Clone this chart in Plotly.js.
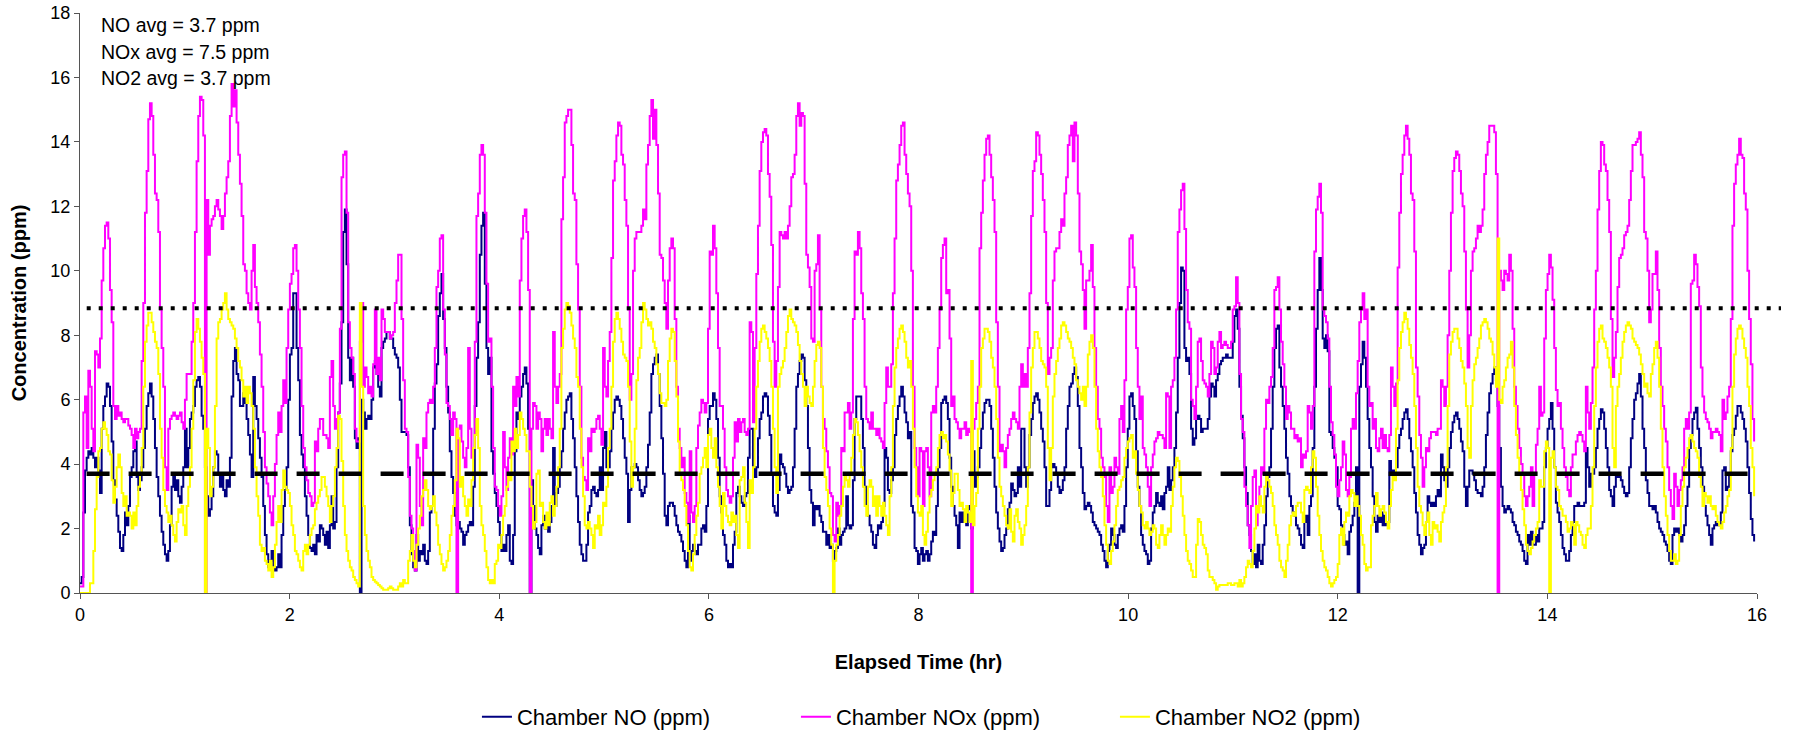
<!DOCTYPE html>
<html>
<head>
<meta charset="utf-8">
<script src="https://cdn.plot.ly/plotly-3.0.1.min.js"></script>
<style>
html,body{margin:0;padding:0;background:#fff;}
#chart{width:1793px;height:733px;}
</style>
</head>
<body>
<div id="chart"></div>
<script>
// Logging interval of the chamber analyser (hours per sample)
const sampleIntervalHr = 0.015893;

const seriesNames = ['Chamber NO (ppm)', 'Chamber NOx (ppm)', 'Chamber NO2 (ppm)'];
const seriesColors = ['#000080', '#FF00FF', '#FFFF00'];

const noPpm = [
// 0 - 1.9 h
0.3,0.5,2.5,3.8,4.2,4.4,4.3,4.5,4.2,3.9,
4.2,3.8,3.1,5.1,5.8,6.1,6.5,6.4,5.8,4.7,
3.5,2.9,2.4,1.9,1.4,1.3,1.8,2.5,2.1,2.7,
3.6,3.9,4.4,4.7,3.6,3.2,3.5,3.9,4.5,5.1,
5.8,6.2,6.5,6.1,5.4,4.5,3.6,3.0,2.4,1.9,
1.5,1.2,1.0,1.3,2.1,3.3,3.6,3.2,3.5,3.0,
2.8,3.3,3.9,5.1,3.9,4.5,5.4,5.6,5.8,6.4,
6.6,6.7,6.4,5.5,5.1,3.9,3.0,2.4,2.6,3.0,
3.9,4.4,4.3,3.7,3.3,3.6,3.2,3.0,3.5,3.3,
4.2,6.1,7.2,7.6,6.8,6.6,5.8,5.8,6.2,5.9,
5.4,4.9,4.3,3.6,6.7,5.8,5.4,4.8,4.2,3.6,
2.7,1.8,1.2,0.8,1.0,1.3,0.8,0.7,0.8,1.2,
// 1.9 - 3.9 h
0.8,1.8,2.7,3.2,3.9,6.0,7.4,7.6,9.3,9.3,
7.6,6.6,4.9,4.3,3.9,3.0,2.4,1.8,1.4,1.3,
1.5,1.2,1.8,1.6,2.1,2.0,1.8,1.5,1.9,1.4,
2.1,3.0,2.0,2.2,3.9,5.6,6.5,8.4,11.2,11.9,
10.2,7.3,6.6,7.3,6.4,4.8,4.5,4.8,0,6.0,
5.6,5.1,5.4,5.5,5.4,6.0,7.0,7.2,6.8,6.4,
6.1,7.6,7.8,7.9,8.1,8.1,7.9,7.9,7.6,7.4,
7.3,7.0,6.0,5.0,5.0,5.0,4.9,3.9,2.1,1.2,
0.8,0.7,1.8,1.0,1.3,1.2,1.5,1.0,0.9,1.3,
2.5,2.7,5.1,6.5,7.1,8.6,9.3,9.9,8.5,7.6,
6.4,5.6,4.4,3.6,3.1,2.4,2.1,2.2,2.0,1.9,
1.5,1.8,1.9,2.1,2.2,2.1,3.3,5.8,7.3,8.4,
10.5,11.4,11.8,9.6,7.6,6.8,
// 3.9 - 5.9 h
7.3,4.4,3.7,3.1,2.7,2.2,1.8,1.3,1.5,1.3,
1.8,2.1,1.0,0.9,1.8,4.4,5.6,5.4,6.1,6.4,
6.8,7.0,6.5,5.1,0,3.5,2.7,2.0,1.8,1.4,
1.2,2.1,2.4,2.0,2.1,1.9,2.2,2.7,4.5,2.7,
3.1,3.3,3.9,4.4,5.1,5.6,6.0,6.1,6.2,5.4,
4.8,3.9,3.0,2.2,1.5,1.2,1.0,1.0,1.5,2.5,
2.7,3.2,3.3,3.1,3.0,3.2,3.9,3.2,4.5,5.0,
3.9,3.9,4.4,5.1,5.6,6.0,6.1,6.0,5.8,5.4,
4.8,4.2,3.7,2.2,3.2,3.9,3.9,4.0,3.9,3.5,
3.2,3.0,3.1,3.3,3.9,4.6,5.6,6.8,7.1,7.3,
7.4,6.8,5.8,4.8,3.7,2.4,2.1,2.7,2.8,2.8,
2.7,2.4,2.1,1.9,1.8,1.6,1.3,1.0,0.8,2.4,
1.0,1.3,1.5,1.3,1.2,1.5,
// 5.9 - 7.9 h
1.5,2.0,2.1,1.9,2.7,5.4,5.8,5.8,6.2,6.0,
5.4,4.2,3.0,2.5,1.8,1.5,1.0,0.8,0.9,0.8,
1.5,1.9,3.1,3.3,3.0,2.8,2.7,3.0,3.1,4.2,
5.1,5.1,3.9,3.6,3.9,4.8,5.4,5.6,6.1,6.2,
6.1,5.5,4.9,3.7,2.7,2.5,2.4,3.2,4.3,4.0,
3.9,3.7,3.3,3.1,3.2,3.3,3.9,5.1,6.4,6.8,
7.2,7.4,7.3,6.6,5.8,4.5,3.2,2.8,2.1,2.7,
2.6,2.7,2.4,2.2,1.9,1.9,1.5,1.8,1.4,1.5,
1.0,1.3,1.4,2.0,1.5,1.8,1.9,2.0,3.0,2.1,
2.0,2.1,3.5,5.4,6.1,6.1,6.1,5.4,4.5,3.3,
2.7,2.4,2.1,1.9,1.5,1.4,1.8,2.1,2.0,2.2,
2.7,4.5,4.2,3.2,3.1,3.5,3.9,4.9,5.4,5.8,
6.1,6.4,6.1,5.6,5.3,4.8,
// 7.9 - 9.9 h
5.0,2.7,2.5,1.4,1.3,0.9,1.2,1.4,1.0,1.2,
1.3,1.0,1.2,1.6,1.9,1.8,2.7,3.9,4.5,5.9,
6.0,6.1,5.9,5.4,4.2,3.3,2.7,2.4,2.1,1.4,
2.5,2.2,2.5,2.2,2.1,2.7,2.6,2.0,4.4,3.3,
3.6,3.9,4.5,5.1,5.6,5.9,6.0,6.0,5.8,5.1,
4.2,3.3,2.5,2.0,1.6,1.3,1.4,1.8,2.0,2.6,
2.8,3.4,3.2,3.0,3.1,3.9,3.3,5.1,5.1,3.9,
3.3,3.9,4.9,5.4,5.9,6.1,6.2,6.0,5.6,5.1,
4.7,3.9,2.7,2.7,3.2,3.9,4.0,3.9,3.7,3.3,
3.1,3.2,3.5,3.9,5.1,5.8,6.4,6.5,6.8,7.0,
6.7,5.8,4.5,3.9,3.1,2.6,2.7,2.8,2.7,2.5,
2.2,2.1,2.0,1.9,1.8,1.5,1.3,1.0,0.8,1.3,
1.5,2.0,1.8,1.5,1.4,1.8,
// 9.9 - 11.9 h
2.0,2.1,1.9,2.7,3.9,5.1,6.1,6.2,5.8,5.4,
4.4,3.3,2.7,1.8,1.5,1.3,1.2,0.9,1.0,2.0,
2.5,2.7,3.1,2.8,2.7,3.0,2.6,3.1,3.3,3.9,
3.2,3.5,3.9,4.5,5.6,7.3,9.0,10.1,10.0,7.6,
7.2,7.3,6.8,5.1,4.6,4.8,5.4,5.5,5.4,5.0,
5.1,5.1,5.1,5.4,6.1,6.5,6.4,6.1,6.6,6.8,
7.1,7.2,7.3,7.3,7.4,7.3,7.3,7.3,7.8,8.6,
8.8,8.2,6.4,5.5,4.8,3.9,3.1,2.1,1.8,1.3,
0.9,1.2,0.8,1.5,1.0,0.9,1.5,2.1,3.0,3.6,
3.9,5.1,6.4,7.6,8.2,8.3,7.0,6.4,5.8,5.1,
4.2,3.7,3.0,2.7,2.5,2.4,2.1,2.0,1.8,1.5,
1.4,2.2,2.4,1.8,2.7,3.0,4.5,6.4,8.2,9.4,
10.4,9.4,7.9,7.6,8.0,7.5,
// 11.9 - 13.9 h
5.0,4.9,4.5,4.2,3.9,2.7,2.6,2.1,1.8,1.5,
1.6,1.2,1.9,2.1,2.4,2.8,3.9,0,6.4,7.1,
7.8,7.3,6.4,5.4,4.5,3.9,3.0,2.2,1.9,2.4,
2.2,2.5,2.1,2.4,2.1,2.2,4.1,3.7,3.8,3.6,
3.9,4.5,4.9,5.1,5.4,5.6,5.7,5.4,4.8,4.4,
3.9,3.1,2.5,1.8,1.5,1.2,1.4,1.5,2.2,3.0,
2.8,2.7,2.8,2.7,3.0,3.2,3.0,4.3,3.9,3.5,
3.3,3.9,4.5,5.0,5.3,5.5,5.6,5.4,5.1,4.7,
4.4,3.3,2.7,3.3,3.8,3.8,3.7,3.5,3.2,3.1,
3.1,3.0,3.3,3.9,4.9,5.6,6.2,6.5,6.8,7.0,
6.6,5.8,4.5,3.3,2.7,2.5,2.6,2.7,2.6,2.5,
2.2,2.1,1.9,1.8,1.6,1.5,1.3,1.0,0.9,1.8,
1.5,1.9,1.5,1.5,1.8,1.6,
// 13.9 - 16 h
2.0,2.0,2.2,3.9,4.5,5.1,5.4,5.9,5.1,3.9,
2.8,2.5,2.2,1.8,1.4,1.2,1.0,1.0,1.3,1.8,
2.2,2.7,2.7,2.8,2.7,2.7,2.7,2.8,4.5,3.9,
3.3,3.7,3.7,3.9,4.5,5.1,5.4,5.7,5.6,5.1,
4.5,3.9,3.2,3.0,2.7,3.3,3.6,3.7,3.6,3.5,
3.3,3.1,3.0,3.1,3.9,4.8,5.4,6.0,6.2,6.5,
6.8,6.1,5.1,4.5,3.5,3.1,2.7,2.7,2.6,2.7,
2.5,2.2,2.0,1.9,1.8,1.6,1.5,1.3,1.0,0.9,
1.8,2.0,1.9,2.0,1.8,1.6,1.8,2.1,2.7,3.3,
4.5,4.9,5.4,5.6,5.75,5.1,4.5,3.9,3.3,2.7,
2.4,2.1,1.8,1.5,2.0,2.1,2.2,2.1,2.1,2.5,
3.8,3.9,3.2,3.3,3.7,4.4,4.9,5.1,5.5,5.8,
5.8,5.6,5.4,5.1,4.7,3.9,3.1,2.3,1.8,1.6
];

const noxPpm = [
// 0 - 1.9 h
0.2,0.2,5.6,6.1,4.5,6.9,6.4,5.1,4.4,7.5,
7.4,7.0,7.9,9.7,10.7,11.4,11.5,11.0,9.4,8.4,
5.8,5.4,5.8,5.5,5.6,5.4,5.3,5.4,5.4,5.2,
5.1,4.9,4.5,5.1,4.8,5.0,5.1,7.2,9.0,11.8,
13.1,14.7,15.2,14.8,13.6,12.4,12.2,11.2,8.8,7.6,
6.4,3.9,3.2,5.1,5.4,5.5,5.6,5.5,5.4,5.5,
5.6,5.3,5.1,6.0,6.8,6.8,6.8,7.8,9.0,11.2,
13.4,14.8,15.4,15.3,14.2,0,12.2,10.5,11.4,11.6,
11.7,12.0,12.2,11.9,11.7,11.3,11.7,12.4,12.9,13.4,
14.8,15.8,15.1,15.6,14.6,13.6,12.7,11.7,10.2,10.0,
9.3,9.0,8.8,10.0,10.8,9.5,9.0,8.4,7.4,6.4,
5.0,3.9,3.4,3.0,2.5,2.1,3.0,4.0,4.9,5.6,
// 1.9 - 3.9 h
5.0,5.8,6.6,5.9,7.6,8.8,9.6,9.9,10.7,10.8,
10.0,8.8,7.6,5.8,4.5,3.9,3.5,3.1,3.0,2.7,
2.8,4.7,4.4,5.1,5.4,5.4,4.9,4.9,4.8,4.5,
6.7,7.2,5.8,5.1,5.4,5.6,8.2,12.9,13.6,13.7,
11.8,8.4,7.6,7.3,6.8,5.1,4.7,4.7,7.8,9.0,
6.4,7.0,6.7,6.2,6.4,6.1,7.1,8.8,6.8,7.3,
6.6,8.8,8.5,8.1,8.1,8.1,7.9,8.0,8.1,9.0,
9.7,10.5,10.5,8.5,6.6,5.1,5.0,3.6,2.4,2.0,
1.3,0.7,4.6,4.2,2.7,2.1,4.8,4.5,5.6,5.9,
6.0,5.9,6.4,7.6,9.5,10.0,11.0,11.1,8.8,7.4,
5.9,5.8,5.4,4.9,5.6,5.4,0,5.1,5.2,4.7,
4.2,3.9,4.5,7.6,5.1,4.2,4.5,7.8,11.7,12.4,
13.6,13.9,13.6,11.8,9.6,7.8,
// 3.9 - 5.9 h
7.9,6.4,4.5,3.3,3.2,2.7,2.4,3.0,5.0,3.9,
3.2,4.2,4.8,4.3,6.4,5.8,6.7,6.1,9.7,11.0,
11.7,11.9,11.2,9.4,0,5.1,5.9,5.8,5.1,5.6,
5.4,4.4,5.1,5.4,4.9,5.4,5.1,4.8,8.1,6.4,
5.9,6.4,6.8,11.6,12.9,14.6,14.8,15.0,15.0,13.9,
12.4,12.2,10.2,8.8,6.4,4.2,3.6,3.5,3.2,4.8,
4.4,5.1,5.0,5.1,5.4,5.5,5.1,4.6,7.6,6.4,
6.1,7.2,8.1,10.4,12.8,13.4,14.2,14.6,14.5,13.6,
13.3,12.2,11.4,8.8,6.0,6.8,10.0,11.0,11.2,11.2,
11.2,11.4,11.9,11.6,13.3,13.9,14.8,15.3,14.1,15.0,
13.9,12.4,10.5,10.4,9.7,9.0,8.2,9.7,10.7,11.0,
10.7,8.5,6.4,5.1,4.5,3.9,4.2,3.1,2.8,2.2,
4.4,2.5,2.2,2.7,4.5,5.2,
// 5.9 - 7.9 h
5.6,6.0,5.9,5.6,5.9,8.2,10.6,10.5,11.4,10.7,
9.3,7.6,5.8,5.8,5.1,3.9,3.2,3.0,2.8,3.0,
4.2,5.3,4.7,5.4,5.0,5.3,5.4,5.0,4.9,5.1,
8.4,8.1,5.3,7.6,9.9,11.4,13.1,14.0,14.3,14.4,
14.2,13.0,12.3,10.8,7.8,6.4,7.2,9.5,11.2,11.1,
11.0,11.2,11.0,11.4,12.0,12.9,13.0,13.6,14.8,15.2,
14.5,14.9,14.8,12.7,10.5,10.1,9.5,7.9,7.8,10.0,
10.2,11.1,8.8,6.4,5.4,5.1,4.4,3.9,3.1,3.0,
1.8,1.6,2.8,2.4,2.7,4.5,4.4,5.6,5.6,5.9,
5.1,5.6,8.5,10.6,10.5,11.2,10.7,9.3,8.5,6.4,
5.4,5.3,5.1,5.6,5.1,5.1,4.9,5.1,4.8,4.7,
4.5,5.9,7.0,6.4,6.4,7.1,9.3,11.0,12.8,13.3,
13.9,14.5,14.6,13.6,13.0,12.4,
// 7.9 - 9.9 h
12.0,10.0,6.4,4.5,3.9,3.0,4.5,4.4,2.7,4.4,
4.5,3.9,3.0,5.6,5.8,5.6,6.4,7.6,8.8,10.4,
10.8,11.0,9.3,9.4,7.9,5.8,6.1,5.4,5.3,5.1,
4.8,5.1,5.1,5.3,4.9,5.1,5.0,0,5.1,5.4,
5.9,6.4,10.7,11.8,12.8,13.6,14.1,14.2,13.6,12.9,
12.2,11.2,8.4,6.4,4.4,4.6,4.4,3.9,4.5,4.9,
5.1,5.4,5.6,5.4,5.3,5.1,6.4,7.1,6.4,6.8,
6.4,7.6,9.3,11.7,13.1,13.4,14.3,14.2,13.6,13.0,
12.2,11.2,9.0,6.8,7.3,7.6,9.7,10.6,10.7,10.7,
11.2,11.6,11.4,12.4,12.9,13.9,14.2,14.5,13.4,14.6,
14.2,12.4,10.6,10.2,9.4,8.2,9.7,9.7,10.0,10.8,
9.5,7.6,6.4,5.4,5.1,4.2,3.9,3.6,2.7,2.2,
3.9,3.1,3.3,4.2,3.9,3.7,
// 9.9 - 11.9 h
5.4,5.8,5.0,6.6,8.8,9.5,11.0,11.1,10.1,9.5,
7.6,6.4,5.4,6.1,4.5,4.3,3.9,3.3,2.7,3.9,
4.3,4.7,4.8,5.0,4.9,4.9,4.8,4.5,6.2,6.1,
4.5,6.4,6.6,7.3,8.8,11.2,11.9,12.5,12.7,11.3,
9.4,8.4,8.2,6.0,5.8,5.4,6.4,7.8,7.9,7.2,
6.6,6.5,6.4,6.1,6.8,7.8,7.6,6.8,7.0,7.8,
8.1,7.6,7.7,7.8,7.7,7.6,7.6,7.8,8.8,8.9,
9.8,9.0,6.8,5.4,5.0,3.3,2.7,2.1,1.4,2.7,
3.6,3.8,2.1,2.7,3.3,3.9,3.7,5.1,6.0,5.9,
6.4,6.7,7.6,9.4,9.5,9.8,8.8,7.8,7.1,6.4,
5.4,5.8,5.6,5.1,5.1,4.8,4.9,4.7,4.8,3.9,
4.3,4.2,4.4,5.8,5.6,5.1,5.8,10.6,11.9,12.3,
12.7,11.8,8.8,8.6,8.4,7.9,
// 11.9 - 13.9 h
6.4,5.3,4.9,4.3,3.3,3.0,3.5,3.9,4.7,4.3,
3.2,3.0,3.6,5.1,5.4,5.1,6.2,7.2,8.4,8.8,
9.3,8.5,8.8,6.4,5.8,5.9,5.1,5.4,4.5,4.4,
4.8,5.1,4.5,4.9,4.5,4.4,4.9,7.0,6.4,5.8,
6.5,10.1,11.8,13.0,13.6,14.2,14.5,14.1,13.6,12.4,
12.2,10.6,7.0,6.1,4.9,4.2,3.3,3.9,4.5,4.4,
4.8,5.0,5.0,5.0,4.9,5.1,5.1,6.6,6.4,5.8,
6.4,8.0,10.0,11.8,13.1,13.5,13.7,13.6,13.1,12.4,
12.0,10.6,8.8,7.0,8.0,10.0,10.6,10.7,11.0,11.4,
11.2,11.4,11.9,13.0,13.6,14.0,14.5,14.5,14.5,14.3,
13.0,0,10.0,9.7,9.4,10.0,9.9,9.7,10.5,10.0,
8.2,6.4,5.8,5.1,4.5,4.0,3.7,3.0,2.7,3.0,
3.3,3.9,2.7,3.7,4.6,5.1,
// 13.9 - 16 h
6.4,5.5,5.6,7.9,9.4,9.9,10.5,10.1,9.1,7.6,
6.3,5.8,5.9,5.1,4.5,3.9,3.6,3.2,3.0,3.9,
4.3,4.3,4.7,4.9,5.0,4.9,4.7,4.4,6.4,5.6,
5.1,5.9,7.0,8.8,10.0,11.9,13.1,14.0,13.9,13.3,
13.1,12.2,11.2,8.5,6.7,7.3,8.1,9.5,10.4,10.5,
10.7,11.1,11.2,11.4,12.2,13.1,13.9,13.9,14.0,14.1,
14.3,13.6,12.9,11.2,11.0,10.0,8.4,8.8,9.9,9.9,
10.6,9.4,7.6,6.4,5.8,5.1,4.7,3.9,3.2,2.7,
2.3,3.7,3.3,2.7,3.2,3.5,3.9,5.1,5.4,5.1,
5.6,9.6,9.7,10.5,10.2,9.5,8.9,7.0,6.1,5.6,
5.4,5.3,5.1,4.8,5.0,5.0,5.1,5.0,4.9,4.4,
6.0,5.4,5.6,6.1,6.4,8.5,11.4,12.7,13.3,13.6,
14.1,13.6,13.5,12.4,11.9,10.0,8.5,7.1,5.4,4.7
];

const no2Ppm = [
// 0 - 1.9 h
0,0,0,0,0,0,0.3,0.3,1.3,2.6,
3.6,4.4,4.5,5.1,5.3,5.1,4.9,4.4,4.3,3.5,
2.8,3.3,3.9,4.3,3.9,3.1,2.7,3.0,2.4,2.5,
2.4,2.0,2.5,2.1,2.7,3.3,3.7,4.5,6.4,7.8,
8.3,8.7,8.7,8.4,8.1,7.8,7.6,6.8,5.1,4.2,
3.2,2.7,2.5,2.2,2.4,2.1,1.8,1.6,2.2,2.6,
2.5,2.7,2.1,1.8,2.7,3.3,3.9,5.1,6.6,8.1,
8.5,8.2,7.8,7.3,6.8,0,5.1,4.5,3.0,3.3,
3.9,5.8,7.9,8.4,8.5,8.8,9.0,9.3,8.8,8.5,
8.4,8.3,8.2,7.9,7.6,7.2,7.0,6.6,6.1,6.4,
5.9,6.4,6.2,5.8,5.1,3.9,3.0,2.4,1.5,1.3,
1.4,1.0,0.9,0.7,1.0,0.5,0.8,1.5,2.2,2.7,
// 1.9 - 3.9 h
2.2,3.2,3.8,3.3,3.2,3.1,2.7,2.1,1.8,1.3,
1.2,1.0,0.8,0.7,1.3,1.5,1.2,1.5,1.8,2.0,
2.1,2.6,2.8,3.0,3.2,3.6,3.6,3.3,3.0,2.7,
2.2,2.7,3.0,3.9,4.5,5.5,5.4,4.1,2.7,1.8,
1.3,1.0,0.8,0.7,0.5,0.4,0.3,0.2,9.0,6.4,
2.7,1.8,1.3,1.0,0.8,0.5,0.4,0.35,0.3,0.25,
0.2,0.15,0.1,0.1,0.1,0.15,0.2,0.15,0.1,0.1,
0.1,0.2,0.3,0.2,0.4,0.3,0.3,1.0,1.3,1.8,
1.0,0.8,1.5,2.0,2.4,3.0,3.2,3.5,3.2,2.7,
2.6,2.7,3.0,2.5,2.1,1.5,1.2,0.9,0.7,0.8,
1.0,1.3,1.8,2.4,2.7,3.5,5.1,4.8,3.3,3.6,
3.0,2.7,2.4,2.9,2.7,3.5,4.5,4.9,5.4,4.5,
2.7,2.1,1.8,1.3,0.8,0.4,
// 3.9 - 5.9 h
0.3,0.4,0.3,0.9,1.0,1.5,1.4,1.8,2.4,2.7,
3.3,3.7,3.5,4.7,4.4,5.1,4.5,4.9,5.6,5.4,
5.1,4.9,4.4,4.4,3.3,2.7,2.0,2.2,3.7,3.8,
2.7,2.8,2.2,2.0,2.5,2.1,2.8,3.0,2.4,2.7,
3.3,3.9,5.1,7.6,8.2,8.8,9.0,8.9,8.7,8.3,
7.9,7.6,6.7,6.4,5.1,3.9,3.0,2.1,2.0,2.2,
2.0,1.8,1.4,2.1,2.0,2.4,1.8,2.1,2.8,2.7,
3.3,4.5,5.1,6.4,7.8,8.5,8.7,8.5,8.2,7.8,
7.4,7.3,7.2,6.4,4.7,3.3,3.9,5.1,6.6,7.3,
7.6,8.4,9.0,8.8,8.5,8.3,8.4,8.2,7.8,7.6,
7.1,6.8,6.2,5.9,5.9,5.8,6.0,7.2,7.9,8.2,
8.1,7.2,6.1,4.7,3.7,3.5,3.2,2.7,2.1,1.3,
0.8,0.7,1.2,1.8,2.4,2.8,
// 5.9 - 7.9 h
3.7,3.9,4.2,4.5,3.9,4.9,5.1,4.5,4.2,4.8,
3.9,3.3,2.7,2.0,3.1,2.7,2.4,2.2,2.1,2.5,
2.2,2.4,1.8,1.4,3.5,3.6,3.9,2.8,2.2,1.4,
3.5,3.1,3.9,5.1,6.4,7.2,7.8,8.2,8.3,8.1,
7.9,7.6,7.2,6.4,5.1,3.9,3.1,6.4,6.8,7.0,
7.2,7.6,8.1,8.6,8.8,8.5,8.4,8.3,8.1,7.7,
7.2,6.8,6.4,5.8,6.4,6.1,5.9,5.8,6.4,7.2,
7.7,7.8,7.6,6.4,4.5,3.6,3.2,2.7,2.0,1.5,
0,1.0,1.5,1.8,2.4,2.7,3.3,3.6,3.5,3.3,
3.7,4.2,4.9,5.4,5.3,4.9,4.4,3.9,3.3,2.7,
2.4,3.3,3.5,3.3,2.7,3.0,2.4,3.0,2.7,2.4,
2.8,2.4,2.1,1.8,3.0,3.9,5.8,7.0,7.6,7.9,
8.2,8.3,8.1,7.8,7.3,7.0,
// 7.9 - 9.9 h
7.2,6.4,5.1,3.9,3.0,2.5,2.4,2.7,1.8,1.5,
1.9,2.5,3.0,3.2,3.5,3.7,3.9,4.5,4.9,5.0,
4.8,4.9,4.7,4.3,3.8,2.7,3.1,3.7,3.7,3.2,
2.7,2.8,2.6,2.2,2.7,2.5,2.2,7.2,2.1,2.7,
3.1,5.1,6.4,7.6,7.9,8.2,8.2,8.1,7.8,7.3,
7.0,6.4,5.4,4.2,3.3,3.0,2.7,2.4,2.1,2.0,
2.6,1.9,1.6,2.4,2.6,2.2,2.0,1.5,1.8,2.1,
2.7,3.9,5.6,7.0,7.6,8.1,8.1,7.9,7.6,7.2,
7.1,7.0,6.4,4.5,3.5,4.5,6.1,6.8,7.2,7.6,
7.9,8.3,8.4,8.3,8.1,7.9,7.8,7.6,7.3,7.1,
6.6,6.4,6.2,6.0,6.4,5.8,6.4,7.4,7.8,8.0,
7.6,6.4,5.1,4.4,3.9,3.6,3.0,2.1,1.5,1.0,
0.9,1.3,1.6,2.1,2.7,3.2,
// 9.9 - 11.9 h
3.3,3.5,3.6,4.2,4.5,4.7,4.8,4.9,4.2,4.4,
3.7,3.2,2.7,2.5,2.1,2.0,2.2,2.0,1.8,1.9,
2.1,2.0,1.5,1.4,1.8,2.1,1.8,1.5,1.8,2.0,
1.9,2.7,3.3,3.9,4.2,4.1,3.6,3.0,2.4,1.8,
1.3,1.0,0.9,0.7,0.5,0.5,1.5,2.3,2.2,1.8,
1.5,1.4,1.2,0.7,0.5,0.5,0.4,0.3,0.1,0.2,
0.25,0.25,0.25,0.25,0.25,0.3,0.3,0.25,0.25,0.3,
0.3,0.2,0.4,0.2,0.3,0.5,0.8,1.0,0.9,0.8,
1.3,2.0,2.7,2.5,3.0,2.7,2.5,3.3,3.6,3.5,
3.3,3.1,2.7,2.1,1.8,1.5,1.0,0.8,0.7,0.5,
1.0,1.5,2.1,2.4,2.5,2.4,2.7,2.8,2.8,2.5,
2.2,3.2,3.3,3.2,3.1,3.9,4.4,4.2,3.3,2.4,
1.8,1.3,1.0,0.8,0.7,0.5,
// 11.9 - 13.9 h
0.3,0.2,0.3,0.4,0.5,0.9,1.8,2.0,1.5,2.2,
2.5,2.4,3.0,3.2,3.1,2.7,3.0,2.7,2.4,1.8,
1.5,0.9,0.7,0.8,0.8,2.1,2.4,2.7,3.1,2.7,
2.4,2.6,2.7,2.5,2.2,2.0,2.7,3.2,3.6,3.5,
5.1,6.6,7.6,8.1,8.4,8.7,8.5,8.2,7.7,7.3,
6.8,5.8,4.5,3.3,2.7,2.5,2.1,1.8,2.2,2.5,
1.8,1.5,2.2,2.0,2.1,1.9,1.6,2.2,2.5,2.7,
3.9,5.8,7.4,7.8,8.1,8.2,8.2,7.9,7.6,7.2,
7.0,6.5,5.8,4.5,4.2,5.8,6.6,7.1,7.3,7.6,
7.9,8.3,8.4,8.5,8.4,8.2,7.9,7.8,7.4,7.0,
6.4,11.0,6.0,5.9,6.4,6.6,7.0,7.3,7.4,7.8,
7.0,5.8,4.9,4.2,3.7,3.2,2.6,2.1,1.5,1.3,
1.2,1.4,1.6,1.8,2.0,2.2,
// 13.9 - 16 h
3.5,3.3,3.3,4.4,4.7,4.5,0,4.2,4.4,3.9,
3.3,3.2,2.7,2.6,2.4,2.4,2.2,1.9,2.0,2.2,
2.1,1.5,2.2,2.1,1.9,1.8,1.5,1.4,1.8,2.0,
2.0,2.7,3.9,5.8,7.0,7.8,8.2,8.3,7.9,7.8,
7.6,7.3,7.0,6.4,4.5,3.9,5.8,6.4,6.8,7.3,
7.8,8.1,8.3,8.4,8.3,8.2,7.9,7.8,7.7,7.6,
7.4,7.1,6.8,6.4,6.5,6.2,6.1,6.8,7.1,7.6,
7.8,7.3,6.4,5.1,3.9,3.0,2.4,1.8,1.3,1.0,
1.0,1.2,0.9,1.0,1.8,2.7,3.3,3.9,4.2,4.5,
4.8,4.9,4.7,4.5,4.4,4.2,3.6,3.3,2.7,3.1,
3.0,2.8,3.0,2.7,2.6,2.7,2.4,2.2,2.1,2.0,
2.2,2.5,2.7,3.0,3.2,4.5,6.4,7.4,7.9,8.2,
8.3,8.2,7.9,7.6,7.3,6.4,5.8,4.5,3.9,3.0
];

// Reference lines
const avgLevelPpm = 3.7;
const avgLineHr = [0.063, 15.91];
const thresholdPpm = 8.84;

// Summary text shown in the corner
const summaryLines = ['NO avg = 3.7 ppm', 'NOx avg = 7.5 ppm', 'NO2 avg = 3.7 ppm'];

// Axes
const xTickVals = [0, 2, 4, 6, 8, 10, 12, 14, 16];
const yTickVals = [0, 2, 4, 6, 8, 10, 12, 14, 16, 18];
const xRange = [0, 16];
const yRange = [0, 18];

const FONT = 'Liberation Sans, Arial, Helvetica, sans-serif';
const seriesValues = [noPpm, noxPpm, no2Ppm];

const traces = seriesValues.map((vals, k) => ({
  type: 'scatter',
  mode: 'lines',
  name: seriesNames[k],
  x0: 0,
  dx: sampleIntervalHr,
  y: vals,
  line: {color: seriesColors[k], width: 2, shape: 'hv'},
  hoverinfo: 'skip'
}));

traces.push({
  type: 'scatter',
  mode: 'lines',
  x: avgLineHr,
  y: [avgLevelPpm, avgLevelPpm],
  line: {color: '#000000', width: 4.5, dash: '23px,19px'},
  showlegend: false,
  hoverinfo: 'skip'
});

const plotL = 80, plotR = 36, plotT = 13, plotB = 139.5;
const plotH = 733 - plotT - plotB;

const annotations = summaryLines.map((txt, i) => ({
  xref: 'paper', yref: 'paper',
  x: 0.0115, xanchor: 'left',
  y: 1 - (12 + i * 26.6) / plotH, yanchor: 'middle',
  text: txt, showarrow: false,
  font: {family: FONT, size: 19.5, color: '#000'}
}));

const layout = {
  width: 1793, height: 733,
  margin: {l: plotL, r: plotR, t: plotT, b: plotB, autoexpand: false},
  paper_bgcolor: '#fff', plot_bgcolor: '#fff',
  font: {family: FONT, color: '#000'},
  showlegend: true,
  legend: {
    orientation: 'h',
    x: 0.2367, xanchor: 'left',
    y: -0.2135, yanchor: 'middle',
    font: {family: FONT, size: 22, color: '#000'},
    entrywidth: 274, entrywidthmode: 'pixels',
    traceorder: 'normal',
    bgcolor: 'rgba(0,0,0,0)'
  },
  xaxis: {
    range: xRange, tickvals: xTickVals, ticktext: xTickVals.map(String),
    ticks: 'outside', ticklen: 5, tickcolor: '#555', tickwidth: 1,
    showline: true, linecolor: '#555', linewidth: 1,
    showgrid: false, zeroline: false,
    tickfont: {family: FONT, size: 18, color: '#000'},
    title: {text: 'Elapsed Time (hr)', standoff: 31,
            font: {family: FONT, size: 20, color: '#000', weight: 'bold'}}
  },
  yaxis: {
    range: yRange, tickvals: yTickVals, ticktext: yTickVals.map(String),
    ticks: 'outside', ticklen: 5, tickcolor: '#555', tickwidth: 1,
    showline: true, linecolor: '#555', linewidth: 1,
    showgrid: false, zeroline: false,
    tickfont: {family: FONT, size: 18, color: '#000'},
    title: {text: 'Concentration (ppm)', standoff: 18,
            font: {family: FONT, size: 20, color: '#000', weight: 'bold'}}
  },
  shapes: [{
    type: 'line', xref: 'paper', yref: 'paper',
    x0: 0.004, x1: 1.0143,
    y0: thresholdPpm / yRange[1], y1: thresholdPpm / yRange[1],
    line: {color: '#000', width: 4, dash: '4px,8px'},
    layer: 'above'
  }],
  annotations: annotations
};

Plotly.newPlot('chart', traces, layout, {staticPlot: true, displayModeBar: false});
</script>
</body>
</html>
